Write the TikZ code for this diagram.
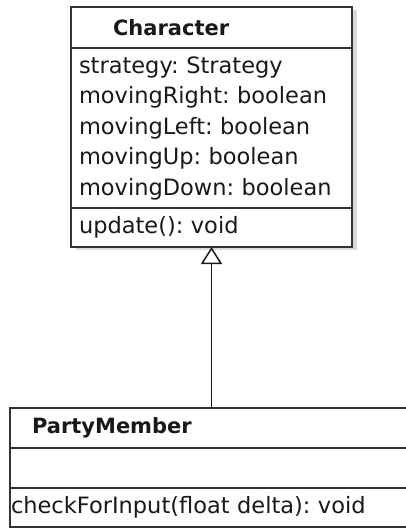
\documentclass[tikz,border=0pt]{standalone}
\usepackage{fontspec}
\setmainfont{DejaVu Sans}
\usetikzlibrary{arrows.meta,positioning,shadows}
\frenchspacing

\begin{document}
\begin{tikzpicture}[
        x=1pt,
        y=-1pt,
        font=\fontsize{22.5}{30.5}\selectfont,
        text=black!90,
        compart/.style={draw=black!80, line width=1.7pt, fill=white, outer sep=0pt,
            inner ysep=0pt, align=left, anchor=north west},
        headtext/.style={font=\fontsize{21}{30.5}\selectfont\bfseries},
        shade/.style={drop shadow={shadow xshift=5pt, shadow yshift=-3pt, opacity=0.15, fill=black}},
        inherit/.style={-{Triangle[open, length=17pt, width=21pt]}, line width=1.5pt, black!90}
    ]
        \useasboundingbox (0,0) rectangle (406,529);

        % superclass
        \node[compart, shade, headtext, text width=197pt, inner xsep=42pt, minimum height=41pt]
            (charHead) at (71,7) {Character};
        \node[compart, shade, text width=265pt, inner xsep=8pt, minimum height=160pt,
            below=0pt of charHead] (charAttr)
            {strategy: Strategy\\ movingRight: boolean\\ movingLeft: boolean\\
             movingUp: boolean\\ movingDown: boolean};
        \node[compart, shade, text width=265pt, inner xsep=8pt, minimum height=39pt,
            below=0pt of charAttr] (charOps) {update(): void};

        % subclass
        \node[compart, headtext, text width=359pt, inner xsep=22pt, minimum height=40pt]
            (pmHead) at (10,408) {PartyMember};
        \node[compart, text width=401pt, inner xsep=1pt, minimum height=40pt,
            below=0pt of pmHead] (pmAttr) {};
        \node[compart, text width=401pt, inner xsep=1pt, minimum height=39pt,
            below=0pt of pmAttr] (pmOps) {checkForInput(float delta): void};

        \draw[inherit] (pmHead.north) -- (charOps.south);
    \end{tikzpicture}
\end{document}
